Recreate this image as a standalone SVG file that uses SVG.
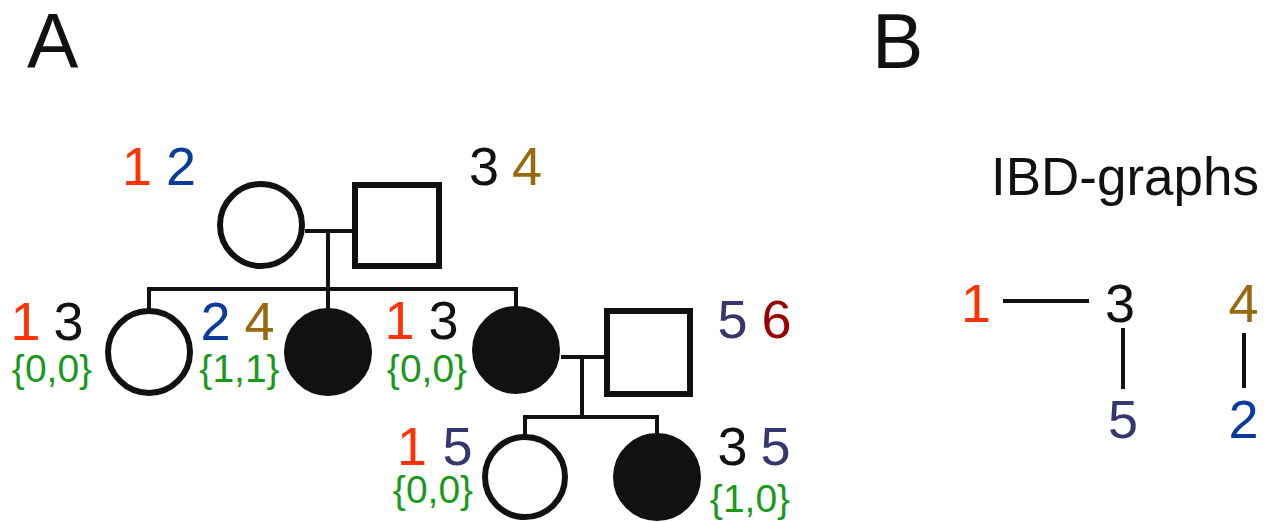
<svg xmlns="http://www.w3.org/2000/svg" width="1270" height="523" viewBox="0 0 1270 523">
<style>
text{font-family:"Liberation Sans",Arial,sans-serif}
.big{font-size:77px;fill:#111}
.d{font-size:54px;text-anchor:middle}
.g{font-size:39px;text-anchor:middle;fill:#1a9a1a}
.r{fill:#ff3300}.b{fill:#0a3c9e}.k{fill:#111}.o{fill:#9a6a12}.p{fill:#37376f}.m{fill:#990000}
.open{fill:#fff;stroke:#111;stroke-width:6}
.fill{fill:#111;stroke:#111;stroke-width:6}
.ln{stroke:#111;stroke-width:4;fill:none}
.ibd{stroke:#111;stroke-width:4}
</style>
<text class="big" x="27" y="68">A</text>
<text class="big" x="872" y="68">B</text>
<g id="connectors">
<path class="ln" d="M305 231H352M328 231V289M149 289H517M149 287V310M328 287V310M516 287V310"/>
<path class="ln" d="M561 357H604M582 357V417M525 417H657M525 415V435M657 415V435"/>
<line class="ibd" x1="1003" y1="301" x2="1089" y2="301"/>
<line class="ibd" x1="1123" y1="328" x2="1123" y2="389"/>
<line class="ibd" x1="1244" y1="333" x2="1244" y2="388"/>
</g>
<g id="I1"><circle class="open" cx="261" cy="225" r="41"/><text class="d r" x="137" y="185">1</text><text class="d b" x="181" y="185">2</text></g>
<g id="I2"><rect class="open" x="355" y="185" width="84" height="81"/><text class="d k" x="484" y="185">3</text><text class="d o" x="527" y="185">4</text></g>
<g id="I3"><circle class="open" cx="149" cy="352" r="41"/><text class="d r" x="25.5" y="340">1</text><text class="d k" x="68.5" y="340">3</text><text class="g" x="52" y="382">{0,0}</text></g>
<g id="I4"><circle class="fill" cx="328" cy="352" r="41"/><text class="d b" x="215.5" y="340">2</text><text class="d o" x="259.5" y="340">4</text><text class="g" x="239.5" y="382">{1,1}</text></g>
<g id="I5"><circle class="fill" cx="516" cy="350" r="41"/><text class="d r" x="399.5" y="339">1</text><text class="d k" x="443.5" y="339">3</text><text class="g" x="427" y="382">{0,0}</text></g>
<g id="I6"><rect class="open" x="607" y="311" width="83" height="83"/><text class="d p" x="732.5" y="338">5</text><text class="d m" x="776.5" y="338">6</text></g>
<g id="I7"><circle class="open" cx="525" cy="477" r="40"/><text class="d r" x="412" y="465">1</text><text class="d p" x="457.5" y="465">5</text><text class="g" x="433" y="503">{0,0}</text></g>
<g id="I8"><circle class="fill" cx="657" cy="477" r="41"/><text class="d k" x="732.5" y="465">3</text><text class="d p" x="775.5" y="465">5</text><text class="g" x="750" y="512">{1,0}</text></g>
<g id="ibd">
<text x="1259" y="195" style="font-size:53px;text-anchor:end;fill:#111">IBD-graphs</text>
<text class="d r" x="976" y="322">1</text>
<text class="d k" x="1120" y="322">3</text>
<text class="d o" x="1243.5" y="322">4</text>
<text class="d p" x="1123" y="438">5</text>
<text class="d b" x="1243.5" y="438">2</text>
</g>
</svg>
